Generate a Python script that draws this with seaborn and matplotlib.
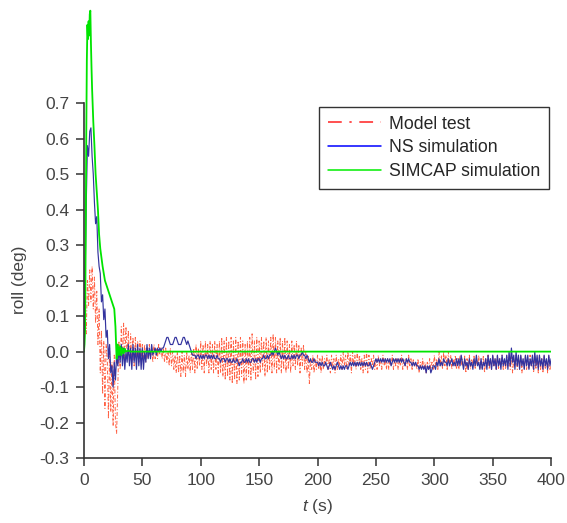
import numpy as np
import pandas as pd
import matplotlib
matplotlib.use("Agg")
import matplotlib.pyplot as plt
import seaborn as sns

# ---------------- data ----------------
t = np.arange(0, 401, 1)

model_test = [
    0.00, 0.10, 0.05, 0.20, 0.13, 0.23, 0.14, 0.24, 0.12, 0.21,
    0.08, 0.17, 0.02, 0.12, -0.06, 0.06, -0.12, 0.03, -0.16, 0.02,
    -0.02, -0.19, 0.01, -0.17, -0.03, -0.21, -0.01, -0.20, -0.23, -0.10,
    0.03, -0.05, 0.07, -0.02, 0.08, -0.03, 0.07, -0.02, 0.06, -0.03,
    0.05, -0.03, 0.04, -0.04, 0.04, -0.02, 0.03, -0.03, 0.03, -0.02,
    0.02, -0.02, 0.02, -0.03, 0.01, -0.02, 0.02, -0.02, 0.01, -0.03,
    0.02, -0.02, 0.01, -0.02, 0.02, -0.01, 0.01, -0.02, 0.01, -0.03,
    0.01, -0.03, 0.00, -0.04, 0.01, -0.04, 0.00, -0.05, -0.01, -0.06,
    0.00, -0.06, -0.01, -0.07, 0.00, -0.06, -0.01, -0.07, 0.00, -0.05,
    -0.01, -0.06, 0.00, -0.05, 0.01, -0.06, 0.02, -0.05, 0.01, -0.04,
    0.03, -0.05, 0.02, -0.06, 0.03, -0.04, 0.02, -0.06, 0.03, -0.05,
    0.02, -0.06, 0.03, -0.05, 0.02, -0.07, 0.03, -0.06, 0.04, -0.07,
    0.03, -0.08, 0.04, -0.07, 0.03, -0.08, 0.04, -0.09, 0.03, -0.08,
    0.04, -0.09, 0.03, -0.08, 0.04, -0.07, 0.03, -0.09, 0.02, -0.08,
    0.03, -0.07, 0.04, -0.08, 0.05, -0.06, 0.03, -0.08, 0.04, -0.07,
    0.03, -0.06, 0.04, -0.05, 0.03, -0.07, 0.04, -0.06, 0.03, -0.05,
    0.04, -0.06, 0.05, -0.05, 0.04, -0.06, 0.03, -0.05, 0.04, -0.06,
    0.03, -0.05, 0.04, -0.06, 0.03, -0.05, 0.02, -0.06, 0.03, -0.04,
    0.02, -0.05, 0.03, -0.04, 0.02, -0.06, 0.01, -0.04, 0.02, -0.05,
    0.00, -0.06, -0.01, -0.09, -0.02, -0.05, -0.01, -0.06, -0.02, -0.05,
    -0.01, -0.05, -0.02, -0.06, -0.01, -0.05, -0.02, -0.04, -0.01, -0.05,
    -0.02, -0.06, -0.01, -0.05, -0.02, -0.06, -0.01, -0.05, -0.02, -0.04,
    -0.01, -0.05, 0.00, -0.04, -0.01, -0.05, 0.00, -0.04, -0.01, -0.06,
    0.00, -0.04, -0.01, -0.05, 0.00, -0.04, -0.01, -0.05, -0.02, -0.06,
    -0.01, -0.05, 0.00, -0.06, -0.01, -0.05, -0.02, -0.04, -0.01, -0.05,
    -0.02, -0.05, -0.01, -0.04, -0.02, -0.05, -0.01, -0.04, -0.02, -0.05,
    -0.02, -0.05, -0.02, -0.04, -0.01, -0.05, -0.02, -0.04, -0.02, -0.05,
    -0.02, -0.04, -0.01, -0.05, -0.02, -0.04, -0.02, -0.05, -0.01, -0.04,
    -0.02, -0.05, -0.02, -0.04, -0.03, -0.05, -0.02, -0.06, -0.03, -0.05,
    -0.02, -0.05, -0.03, -0.06, -0.03, -0.05, -0.02, -0.05, -0.03, -0.05,
    -0.01, -0.04, -0.02, -0.05, 0.00, -0.04, -0.01, -0.05, 0.00, -0.04,
    -0.01, -0.05, 0.00, -0.04, -0.01, -0.05, -0.02, -0.04, -0.01, -0.05,
    -0.02, -0.05, -0.01, -0.04, -0.02, -0.05, -0.01, -0.06, -0.02, -0.05,
    -0.01, -0.05, -0.02, -0.04, -0.01, -0.05, -0.02, -0.04, -0.01, -0.05,
    -0.02, -0.05, -0.01, -0.06, -0.02, -0.04, -0.01, -0.05, -0.02, -0.05,
    -0.01, -0.04, -0.02, -0.05, -0.01, -0.05, -0.02, -0.04, -0.01, -0.05,
    -0.02, -0.05, -0.01, -0.04, -0.02, -0.05, -0.01, -0.06, -0.02, -0.04,
    -0.01, -0.05, -0.02, -0.04, -0.01, -0.06, -0.02, -0.05, -0.01, -0.05,
    -0.02, -0.05, -0.01, -0.04, -0.02, -0.06, -0.01, -0.05, -0.02, -0.06,
    -0.01, -0.05, -0.02, -0.06, -0.01, -0.05, -0.02, -0.06, -0.01, -0.05, -0.03,
]

ns_sim = [
    0.00, 0.22, 0.42, 0.58, 0.55, 0.62, 0.63, 0.55, 0.50, 0.42,
    0.36, 0.38, 0.28, 0.24, 0.22, 0.14, 0.16, 0.09, 0.12, 0.04,
    0.06, -0.02, 0.02, -0.06, -0.04, -0.10, -0.03, -0.08, -0.01, -0.04,
    0.01, -0.03, 0.02, -0.04, 0.01, -0.05, 0.00, -0.03, 0.02, -0.04,
    0.01, -0.05, 0.02, -0.03, 0.01, -0.05, 0.02, -0.04, 0.01, -0.05,
    0.01, -0.05, 0.00, -0.03, 0.02, -0.02, 0.01, -0.02, 0.02, -0.01,
    0.00, 0.01, -0.01, 0.01, 0.00, 0.01, 0.00, 0.01, 0.01, 0.02,
    0.03, 0.04, 0.04, 0.03, 0.02, 0.02, 0.02, 0.03, 0.04, 0.04,
    0.03, 0.02, 0.02, 0.02, 0.03, 0.04, 0.04, 0.03, 0.02, 0.03,
    0.02, 0.01, 0.00, -0.01, -0.01, -0.01, -0.02, -0.01, -0.01, -0.02,
    -0.01, -0.02, -0.01, -0.02, -0.01, -0.01, -0.02, -0.01, -0.02, -0.01,
    -0.02, -0.01, -0.02, -0.02, -0.01, -0.02, -0.02, -0.03, -0.02, -0.02,
    -0.02, -0.03, -0.02, -0.02, -0.03, -0.02, -0.03, -0.03, -0.02, -0.03,
    -0.03, -0.02, -0.03, -0.04, -0.03, -0.03, -0.02, -0.03, -0.03, -0.02,
    -0.03, -0.02, -0.03, -0.03, -0.02, -0.02, -0.03, -0.02, -0.03, -0.02,
    -0.02, -0.03, -0.02, -0.02, -0.01, -0.02, -0.02, -0.01, -0.02, -0.01,
    -0.01, 0.00, -0.01, 0.00, 0.01, 0.00, -0.01, 0.00, -0.01, -0.02,
    -0.01, -0.02, -0.01, -0.02, -0.02, -0.01, -0.02, -0.02, -0.01, -0.02,
    -0.01, -0.02, -0.01, -0.01, -0.02, -0.01, -0.01, 0.00, -0.01, -0.01,
    -0.02, -0.01, -0.02, -0.03, -0.02, -0.03, -0.03, -0.02, -0.03, -0.03,
    -0.03, -0.04, -0.03, -0.04, -0.03, -0.04, -0.04, -0.03, -0.04, -0.05,
    -0.04, -0.03, -0.04, -0.05, -0.04, -0.05, -0.04, -0.03, -0.04, -0.05,
    -0.04, -0.05, -0.04, -0.05, -0.04, -0.04, -0.05, -0.04, -0.03, -0.04,
    -0.03, -0.04, -0.03, -0.04, -0.03, -0.04, -0.03, -0.04, -0.03, -0.04,
    -0.03, -0.04, -0.03, -0.04, -0.04, -0.03, -0.04, -0.05, -0.04, -0.03,
    -0.02, -0.03, -0.02, -0.03, -0.02, -0.03, -0.02, -0.03, -0.02, -0.03,
    -0.02, -0.03, -0.02, -0.04, -0.03, -0.02, -0.03, -0.02, -0.03, -0.02,
    -0.03, -0.02, -0.03, -0.02, -0.03, -0.04, -0.02, -0.03, -0.02, -0.03,
    -0.03, -0.04, -0.03, -0.04, -0.03, -0.04, -0.04, -0.05, -0.04, -0.05,
    -0.04, -0.05, -0.04, -0.06, -0.04, -0.05, -0.04, -0.06, -0.05, -0.04,
    -0.04, -0.05, -0.03, -0.04, -0.02, -0.04, -0.03, -0.04, -0.02, -0.03,
    -0.03, -0.04, -0.02, -0.04, -0.03, -0.02, -0.04, -0.03, -0.04, -0.02,
    -0.04, -0.02, -0.04, -0.01, -0.03, -0.05, -0.02, -0.04, -0.03, -0.05,
    -0.02, -0.04, -0.03, -0.05, -0.02, -0.04, -0.01, -0.04, -0.03, -0.05,
    -0.02, -0.05, -0.03, -0.04, -0.02, -0.05, -0.01, -0.04, -0.02, -0.05,
    -0.01, -0.04, -0.02, -0.05, -0.01, -0.04, -0.02, -0.05, -0.01, -0.04,
    -0.02, -0.04, -0.01, -0.05, 0.00, -0.04, 0.01, -0.03, -0.01, -0.05,
    0.00, -0.04, -0.01, -0.05, -0.01, -0.04, -0.02, -0.05, -0.01, -0.04,
    -0.01, -0.05, -0.02, -0.04, -0.01, -0.05, 0.00, -0.04, -0.01, -0.05,
    -0.01, -0.04, -0.02, -0.05, -0.01, -0.04, -0.02, -0.05, -0.01, -0.04, -0.02,
]

simcap_t = [0, 0.5, 1, 1.5, 2, 2.5, 3, 3.5, 4, 4.5,
            5, 5.5, 6, 6.5, 7, 8, 9, 10, 11, 12,
            13, 14, 16, 18, 20, 22, 24, 26, 27, 28,
            29, 30, 31, 32, 33, 34, 35, 36, 38, 40, 400]
simcap_sim = [0.00, 0.02, 0.06, 0.30, 0.60, 0.82, 0.92, 0.88, 0.93, 0.89,
              0.95, 0.96, 0.87, 0.80, 0.74, 0.65, 0.58, 0.50, 0.45, 0.40,
              0.33, 0.29, 0.24, 0.20, 0.18, 0.16, 0.14, 0.12, 0.07, -0.02,
              0.02, -0.01, 0.015, -0.01, 0.01, -0.005, 0.008, 0.0, 0.003, 0.0, 0.0]

labels = ["Model test", "NS simulation", "SIMCAP simulation"]
x_ticks = [0, 50, 100, 150, 200, 250, 300, 350, 400]
y_ticks = [-0.3, -0.2, -0.1, 0.0, 0.1, 0.2, 0.3, 0.4, 0.5, 0.6, 0.7]

# ---------------- style ----------------
sns.set_style("ticks")
plt.rcParams["font.family"] = ["Liberation Sans", "DejaVu Sans"]
plt.rcParams["axes.unicode_minus"] = False
plt.rcParams["mathtext.fontset"] = "custom"
plt.rcParams["mathtext.it"] = "Liberation Sans:italic"
plt.rcParams["mathtext.rm"] = "Liberation Sans"

fig = plt.figure(figsize=(5.67, 5.23), dpi=100)
ax = fig.add_axes([0.148, 0.124, 0.824, 0.876])

sns.lineplot(x=t, y=model_test, ax=ax, color="#ff4422", lw=0.7, alpha=0.85,
             linestyle=(0, (4, 2, 1, 2)), label=labels[0], sort=False)
sns.lineplot(x=t, y=ns_sim, ax=ax, color="#33339e", lw=0.85,
             label=labels[1], sort=False)
sns.lineplot(x=simcap_t, y=simcap_sim, ax=ax, color="#00e400", lw=1.3,
             label=labels[2], sort=False)

ax.set_xlim(0, 400)
ax.set_ylim(-0.3, 0.99)
ax.set_xticks(x_ticks)
ax.set_yticks(y_ticks)
ax.set_yticklabels([f"{v:.1f}" for v in y_ticks])
ax.spines["top"].set_visible(False)
ax.spines["right"].set_visible(False)
ax.spines["left"].set_bounds(-0.3, 0.7)
for s in ("left", "bottom"):
    ax.spines[s].set_color("#333333")
    ax.spines[s].set_linewidth(1.2)
ax.tick_params(direction="out", length=6, width=1.1, colors="#333333",
               labelsize=12.5, labelcolor="#444444", pad=4.5)

ax.set_xlabel("$t$ (s)", fontsize=12.5, color="#444444", labelpad=7)
ax.set_ylabel("roll (deg)", fontsize=12.4, color="#444444")
ax.yaxis.set_label_coords(-0.122, 0.389)

leg = ax.legend(loc="upper right", bbox_to_anchor=(0.995, 0.767),
                borderaxespad=0, frameon=True, fancybox=False, fontsize=12.7,
                handlelength=3.0, handletextpad=0.45, borderpad=0.5,
                labelspacing=0.38)
leg.get_frame().set_edgecolor("black")
leg.get_frame().set_linewidth(1.0)
for i, (line, c) in enumerate(zip(leg.get_lines(), ["#ff2020", "#0000ff", "#00ee00"])):
    line.set_color(c)
    line.set_linewidth(1.1)
    line.set_alpha(1.0)
    if i == 0:
        line.set_linestyle((0, (9, 5, 1.5, 5)))

fig.savefig("out.png", dpi=100)
